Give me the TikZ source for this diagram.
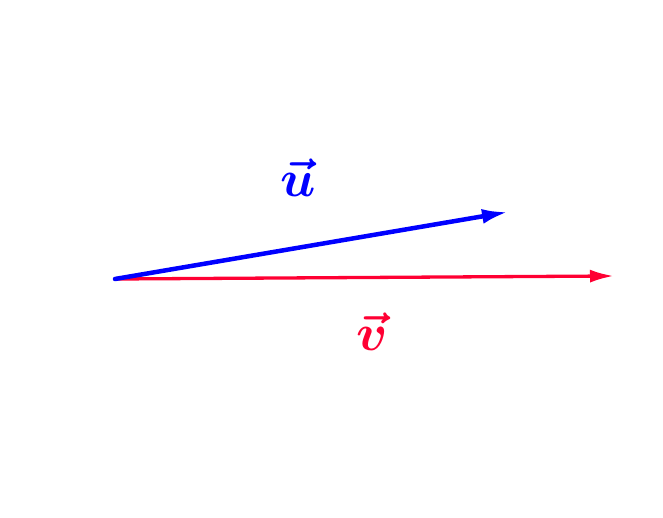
\documentclass[tikz,border=0pt]{standalone}
\usepackage{amsmath,bm}
\usetikzlibrary{arrows.meta}
\definecolor{vred}{RGB}{255,0,51}
\begin{document}
\begin{tikzpicture}[x=1pt,y=1pt,
  vec/.style={line cap=round},
  lab/.style={inner sep=0pt,scale=5.2}]
\useasboundingbox (0,0) rectangle (663,518);
\coordinate (O) at (115,239);
\coordinate (U) at (508,306);
\coordinate (V) at (614,242);
\draw[vec,vred,line width=3.3pt,-{Latex[length=24pt,width=13pt]}] (O) -- (V);
\draw[vec,blue,line width=4.5pt,-{Latex[length=26pt,width=15pt]}] (O) -- (U);
\node[lab,text=blue] (ul) at (298,340) {$\bm{\vec{u}}$};
\node[lab,text=vred] (vl) at (372,186) {$\bm{\vec{v}}$};
\end{tikzpicture}
\end{document}
